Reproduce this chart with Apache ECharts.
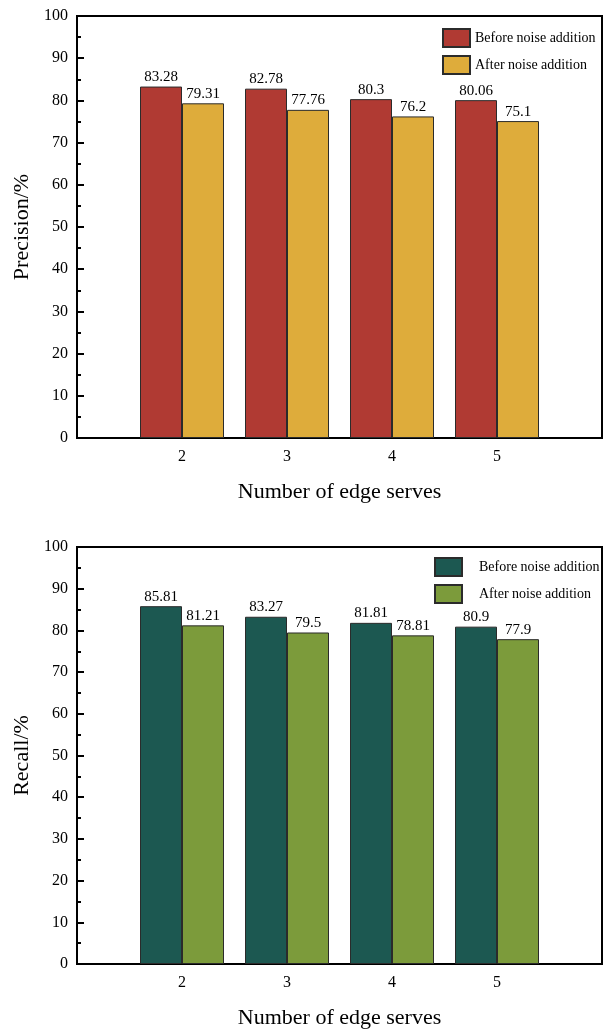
<!DOCTYPE html>
<html>
<head>
<meta charset="utf-8">
<script src="https://cdn.jsdelivr.net/npm/echarts@6/dist/echarts.min.js"></script>
<style>
  html, body { margin: 0; padding: 0; background: #fff; }
  #top, #bottom { width: 605px; height: 517px; }
</style>
</head>
<body>
<div id="top"></div>
<div id="bottom"></div>
<script>
// Edge server counts on the x axis
const edgeServers = [2, 3, 4, 5];
const seriesNames = ['Before noise addition', 'After noise addition'];

// Precision (%)
const precisionBefore = [83.28, 82.78, 80.3, 80.06];
const precisionAfter = [79.31, 77.76, 76.2, 75.1];

// Recall (%)
const recallBefore = [85.81, 83.27, 81.81, 80.9];
const recallAfter = [81.21, 79.5, 78.81, 77.9];

const FONT = "'Liberation Serif', 'Times New Roman', serif";

function pairs(xs, ys) {
  return xs.map((x, i) => [x, ys[i]]);
}

function buildOption(cfg) {
  const barSeries = (name, values, color) => ({
    name: name,
    type: 'bar',
    data: pairs(edgeServers, values),
    barWidth: 42,
    barGap: '0%',
    itemStyle: { color: color, borderColor: '#2b2b2b', borderWidth: 1 },
    label: {
      show: true,
      position: 'top',
      distance: 2,
      color: '#000',
      fontFamily: FONT,
      fontSize: 15,
      formatter: p => String(p.value[1])
    }
  });
  return {
    animation: false,
    backgroundColor: '#fff',
    textStyle: { fontFamily: FONT },
    grid: {
      left: 77, top: cfg.gridTop, width: 525, height: 422,
      show: true, borderColor: '#000', borderWidth: 2, backgroundColor: 'transparent'
    },
    legend: {
      orient: 'vertical',
      left: cfg.legendLeft, top: cfg.legendTop,
      padding: 0,
      itemWidth: 27, itemHeight: 18, itemGap: 7,
      icon: 'rect',
      data: seriesNames,
      textStyle: {
        fontFamily: FONT, fontSize: 14, color: '#000',
        padding: [0, 0, 0, cfg.legendTextPad]
      }
    },
    xAxis: {
      type: 'value',
      min: 1, max: 6, interval: 1,
      name: 'Number of edge serves',
      nameLocation: 'middle',
      nameGap: 43,
      nameTextStyle: { fontFamily: FONT, fontSize: 22, color: '#000' },
      axisLine: { show: true, lineStyle: { color: '#000', width: 2 } },
      axisTick: { show: false },
      splitLine: { show: false },
      axisLabel: {
        fontFamily: FONT, fontSize: 16, color: '#000', margin: 11,
        formatter: v => (edgeServers.indexOf(v) >= 0 ? String(v) : '')
      }
    },
    yAxis: {
      type: 'value',
      min: 0, max: 100, interval: 10,
      name: cfg.yName,
      nameLocation: 'middle',
      nameGap: 42,
      nameTextStyle: { fontFamily: FONT, fontSize: 22, color: '#000' },
      axisLine: { show: true, lineStyle: { color: '#000', width: 2 } },
      axisTick: { show: true, inside: true, length: 7, lineStyle: { color: '#000', width: 2 } },
      minorTick: { show: true, splitNumber: 2, length: 4, lineStyle: { color: '#000', width: 2 } },
      splitLine: { show: false },
      axisLabel: { fontFamily: FONT, fontSize: 16, color: '#000', margin: 9 }
    },
    series: [
      barSeries(seriesNames[0], cfg.before, cfg.colors[0]),
      barSeries(seriesNames[1], cfg.after, cfg.colors[1])
    ]
  };
}

const topChart = echarts.init(document.getElementById('top'), null, { renderer: 'canvas' });
topChart.setOption(buildOption({
  gridTop: 16,
  yName: 'Precision/%',
  before: precisionBefore,
  after: precisionAfter,
  colors: ['#B03A33', '#DEAC3B'],
  legendLeft: 442, legendTop: 28, legendTextPad: 0
}));

const bottomChart = echarts.init(document.getElementById('bottom'), null, { renderer: 'canvas' });
bottomChart.setOption(buildOption({
  gridTop: 30,
  yName: 'Recall/%',
  before: recallBefore,
  after: recallAfter,
  colors: ['#1C5851', '#7C9B3B'],
  legendLeft: 434, legendTop: 40, legendTextPad: 12
}));
</script>
</body>
</html>
